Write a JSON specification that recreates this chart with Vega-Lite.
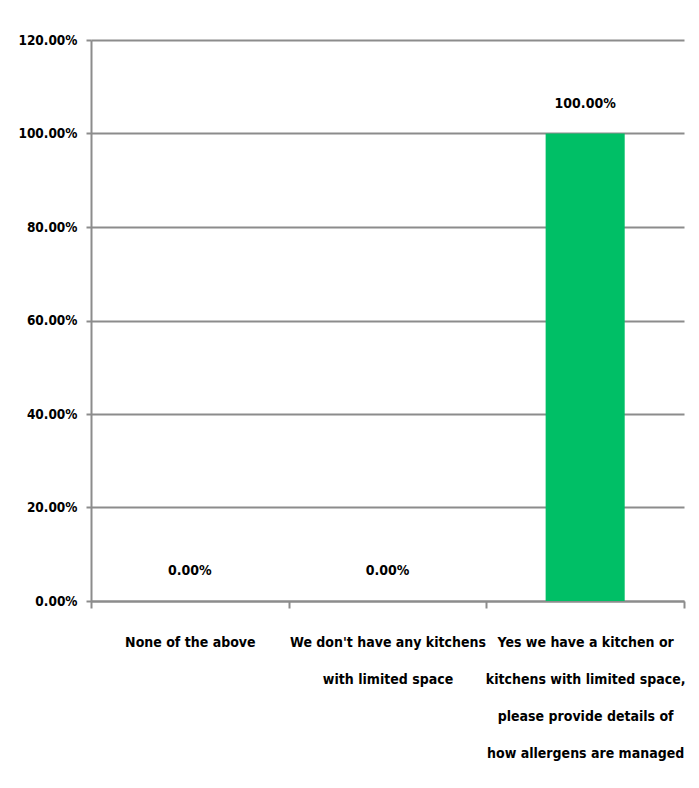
{
  "$schema": "https://vega.github.io/schema/vega-lite/v6.json",
  "width": 593,
  "height": 561,
  "autosize": {"type": "none"},
  "padding": {"left": 91, "top": 40, "right": 15, "bottom": 187},
  "background": "white",
  "config": {
    "view": {"stroke": null},
    "font": "DejaVu Sans Condensed, sans-serif",
    "axis": {"labelFont": "DejaVu Sans Condensed, sans-serif", "labelFontWeight": "bold", "labelFontSize": 14, "labelColor": "#000000"}
  },
  "data": {
    "values": [
      {"category": "None of the above", "value": 0},
      {"category": "We don't have any kitchens with limited space", "value": 0},
      {"category": "Yes we have a kitchen or kitchens with limited space, please provide details of how allergens are managed", "value": 1}
    ]
  },
  "encoding": {
    "x": {
      "field": "category",
      "type": "nominal",
      "sort": null,
      "scale": {"paddingInner": 0, "paddingOuter": 0},
      "axis": {
        "title": null,
        "labelAngle": 0,
        "grid": false,
        "domainColor": "#8c8c8c",
        "domainWidth": 2,
        "tickColor": "#8c8c8c",
        "tickWidth": 2,
        "tickSize": 7,
        "tickBand": "extent",
        "labelPadding": 34,
        "labelLineHeight": 37,
        "labelBaseline": "middle",
        "labelLimit": 300,
        "labelExpr": "datum.label == 'None of the above' ? 'None of the above' : datum.label == 'We don\\'t have any kitchens with limited space' ? ['We don\\'t have any kitchens', 'with limited space'] : datum.label == 'Yes we have a kitchen or kitchens with limited space, please provide details of how allergens are managed' ? ['Yes we have a kitchen or', 'kitchens with limited space,', 'please provide details of', 'how allergens are managed'] : ''"
      }
    },
    "y": {
      "field": "value",
      "type": "quantitative",
      "scale": {"domain": [0, 1.2], "nice": false},
      "axis": {
        "title": null,
        "format": ".2%",
        "values": [0, 0.2, 0.4, 0.6, 0.8, 1.0, 1.2],
        "grid": true,
        "gridColor": "#8c8c8c",
        "gridWidth": 2,
        "domainColor": "#8c8c8c",
        "domainWidth": 2,
        "tickColor": "#8c8c8c",
        "tickWidth": 2,
        "tickSize": 5,
        "labelPadding": 9,
        "labelFontSize": 13.5
      }
    }
  },
  "layer": [
    {"mark": {"type": "bar", "color": "#00BF66", "width": {"band": 0.4}}},
    {
      "mark": {"type": "text", "baseline": "middle", "dy": -30, "fontSize": 14, "fontWeight": "bold", "font": "DejaVu Sans Condensed, sans-serif", "color": "#000000"},
      "encoding": {"text": {"field": "value", "type": "quantitative", "format": ".2%"}}
    }
  ]
}
